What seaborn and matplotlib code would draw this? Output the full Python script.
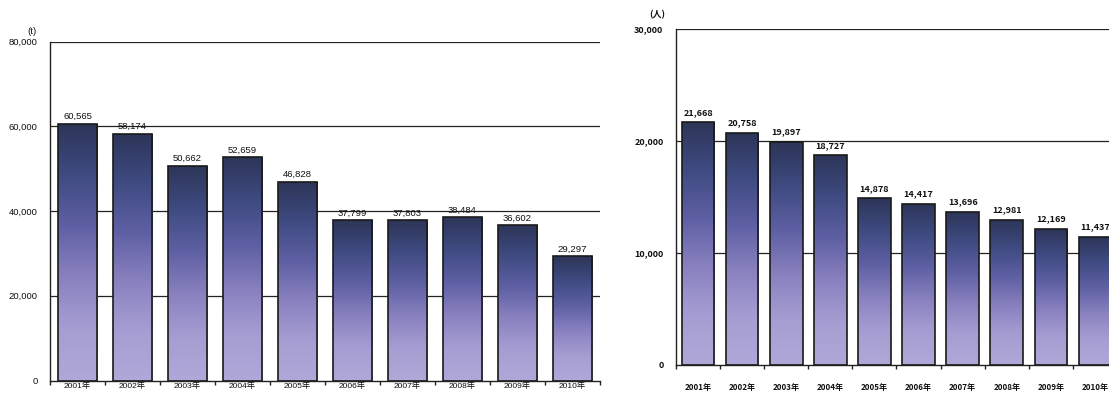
import numpy as np
import pandas as pd
import matplotlib
matplotlib.use("Agg")
import matplotlib.pyplot as plt
from matplotlib.colors import LinearSegmentedColormap
from matplotlib.ticker import FixedLocator
import seaborn as sns

sns.set_theme(style="white")
plt.rcParams["font.family"] = ["Liberation Sans", "Noto Sans CJK JP"]

# Shared categories
years = ["2001年", "2002年", "2003年", "2004年", "2005年",
         "2006年", "2007年", "2008年", "2009年", "2010年"]

# Left panel: tonnage
tonnes = [60565, 58174, 50662, 52659, 46828, 37799, 37803, 38484, 36602, 29297]
tonnes_ticks = [0, 20000, 40000, 60000, 80000]

# Right panel: persons
persons = [21668, 20758, 19897, 18727, 14878, 14417, 13696, 12981, 12169, 11437]
persons_ticks = [0, 10000, 20000, 30000]

bar_cmap = LinearSegmentedColormap.from_list(
    "bar_grad", ["#2d3558", "#3f4b82", "#5f60a4", "#8a82c0", "#a69ed2", "#b0a8d8"])

fig = plt.figure(figsize=(11.09, 3.94), dpi=100)
fig.patch.set_facecolor("white")

ax_l = fig.add_axes([50 / 1109, 1 - 380.5 / 394, 550 / 1109, 339 / 394])
ax_r = fig.add_axes([676 / 1109, 1 - 365 / 394, 441 / 1109, 336 / 394])


def gradient_bars(ax, labels, values, width, ymax, ticks, unit, unit_xy,
                  label_font, xlabel_font, label_pad, xlabel_pad, tick_pad):
    df = pd.DataFrame({"year": labels, "value": values})
    sns.barplot(data=df, x="year", y="value", ax=ax, color="#4a5290",
                width=width, edgecolor="#1a1a1a", linewidth=1.2,
                saturation=1, zorder=3)

    grad = np.linspace(0, 1, 256).reshape(-1, 1)
    for patch in ax.patches:
        x0, y0 = patch.get_x(), patch.get_y()
        w, h = patch.get_width(), patch.get_height()
        im = ax.imshow(grad, cmap=bar_cmap, aspect="auto",
                       extent=(x0, x0 + w, y0, y0 + h), origin="upper",
                       zorder=2, interpolation="bicubic")
        im.set_clip_path(patch)
        patch.set_facecolor("none")
        ax.text(x0 + w / 2, y0 + h + label_pad, f"{h:,.0f}",
                ha="center", va="bottom", color="#111111", **label_font)
    ax.set_xlim(-0.5, len(labels) - 0.5)
    ax.set_ylim(0, ymax)

    # horizontal rules behind the bars
    for t in ticks[1:]:
        ax.axhline(t, color="#222222", lw=0.9, zorder=1)

    for side in ["top", "right"]:
        ax.spines[side].set_visible(False)
    for side in ["left", "bottom"]:
        ax.spines[side].set_color("#222222")
        ax.spines[side].set_linewidth(1.0)

    ax.set_yticks(ticks)
    ax.set_yticklabels([f"{t:,}" for t in ticks], **label_font)
    ax.tick_params(axis="y", length=0, pad=tick_pad, colors="#111111")
    ax.set_xticks(range(len(labels)))
    ax.set_xticklabels(labels, **xlabel_font)
    ax.xaxis.set_minor_locator(FixedLocator(np.arange(-0.5, len(labels), 1.0)))
    ax.tick_params(axis="x", which="major", length=0, pad=xlabel_pad,
                   colors="#111111")
    ax.tick_params(axis="x", which="minor", bottom=True, length=3,
                   width=1.0, color="#222222")
    ax.set_xlabel("")
    ax.set_ylabel("")
    ax.grid(False)
    ax.text(unit_xy[0], unit_xy[1], unit, transform=fig.transFigure,
            ha="center", va="center", color="#111111", **label_font)


left_font = dict(fontsize=6.8, family=["Liberation Sans", "Noto Sans CJK JP"])
gradient_bars(ax_l, years, tonnes, 0.71, 80000, tonnes_ticks,
              "(t)", (32 / 1109, 1 - 31 / 394),
              left_font,
              dict(fontsize=6.0, family=["Liberation Sans", "Noto Sans CJK JP"]),
              700, 1, 9)

right_font = dict(fontsize=6.5, fontweight="bold",
                  family=["Liberation Sans Narrow", "Noto Sans CJK JP"])
gradient_bars(ax_r, years, persons, 0.74, 30000, persons_ticks,
              "(人)", (657 / 1109, 1 - 15 / 394),
              right_font,
              dict(fontsize=5.8, fontweight="bold",
                   family=["Liberation Sans Narrow", "Noto Sans CJK JP"]),
              500, 13, 9)

fig.savefig("out.png", dpi=100, facecolor="white")
